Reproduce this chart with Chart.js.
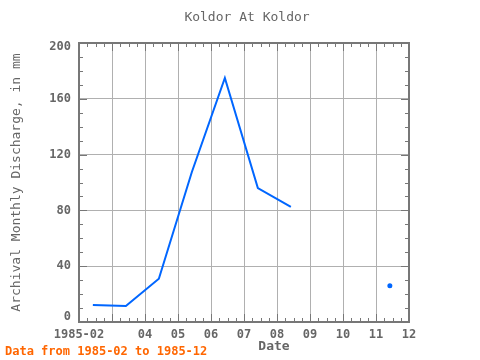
<!DOCTYPE html>
<html>
<head>
<meta charset="utf-8">
<script src="https://cdn.jsdelivr.net/npm/chart.js@4"></script>
<style>
  html, body { margin: 0; padding: 0; background: #fff; }
  #wrap { width: 480px; height: 360px; }
</style>
</head>
<body>
<div id="wrap"><canvas id="chart" width="480" height="360"></canvas></div>
<script>
// Monthly values (1985), points plotted near the middle of each month
const months = ['1985-02', '1985-03', '1985-04', '1985-05', '1985-06', '1985-07', '1985-08', '1985-09', '1985-10', '1985-11'];
const discharge = [12.2, 11.4, 31, 107.5, 175, 96, 82.5, null, null, 26];
const xTickLabels = ['1985-02', '', '04', '05', '06', '07', '08', '09', '10', '11', '12'];
const yTickValues = [0, 40, 80, 120, 160, 200];

const MID_MONTH = 0.42;
const FONT = '"DejaVu Sans Mono", "Liberation Mono", monospace';
const TEXT = '#666666';
const AXIS = '#777777';

const points = months.map((m, i) => ({ x: i + MID_MONTH, y: discharge[i] }));

// draws the frame, inner ticks, y labels and the texts around the plot
const framePlugin = {
    id: 'frame',
    afterDraw(chart) {
        const ctx = chart.ctx;
        const a = chart.chartArea;
        const xs = chart.scales.x;
        const ys = chart.scales.y;
        ctx.save();
        ctx.strokeStyle = AXIS;
        ctx.lineWidth = 1;
        ctx.beginPath();
        for (let v = 0; v <= 10; v += 0.25) {
            const px = Math.round(xs.getPixelForValue(v)) + 0.5;
            const len = Number.isInteger(v) ? 8 : 4;
            ctx.moveTo(px, a.bottom); ctx.lineTo(px, a.bottom - len);
            ctx.moveTo(px, a.top); ctx.lineTo(px, a.top + len);
        }
        for (let v = 0; v <= 200; v += 10) {
            const py = Math.round(ys.getPixelForValue(v)) + 0.5;
            const len = v % 40 === 0 ? 8 : 4;
            ctx.moveTo(a.left, py); ctx.lineTo(a.left + len, py);
            ctx.moveTo(a.right, py); ctx.lineTo(a.right - len, py);
        }
        ctx.stroke();
        ctx.lineWidth = 2;
        ctx.strokeRect(a.left, a.top, a.right - a.left, a.bottom - a.top);

        // y labels, the end ones kept inside the frame
        ctx.fillStyle = TEXT;
        ctx.font = 'bold 12px ' + FONT;
        ctx.textAlign = 'right';
        ctx.textBaseline = 'middle';
        yTickValues.forEach(v => {
            let py = ys.getPixelForValue(v);
            py = Math.min(Math.max(py, a.top + 4), a.bottom - 5);
            ctx.fillText(String(v), a.left - 8, py);
        });

        ctx.textAlign = 'center';
        ctx.font = '13px ' + FONT;
        ctx.fillText('Koldor At Koldor', 247, 18);
        ctx.font = 'bold 13px ' + FONT;
        ctx.fillText('Date', 274, 347);
        ctx.save();
        ctx.translate(17, (a.top + a.bottom) / 2);
        ctx.rotate(-Math.PI / 2);
        ctx.font = '13px ' + FONT;
        ctx.fillText('Archival Monthly Discharge, in mm', 0, 0);
        ctx.restore();

        ctx.fillStyle = '#ff6600';
        ctx.font = 'bold 12px ' + FONT;
        ctx.textAlign = 'left';
        ctx.fillText('Data from 1985-02 to 1985-12', 5, 352);
        ctx.restore();
    }
};

new Chart(document.getElementById('chart'), {
    type: 'line',
    data: {
        datasets: [{
            data: points,
            borderColor: '#0066ff',
            backgroundColor: '#0066ff',
            borderWidth: 2,
            fill: false,
            tension: 0,
            spanGaps: false,
            pointRadius: (c) => {
                const i = c.dataIndex;
                const alone = (discharge[i - 1] == null) && (discharge[i + 1] == null);
                return alone ? 2.5 : 0;
            },
            pointBorderWidth: 0
        }]
    },
    options: {
        responsive: false,
        animation: false,
        events: [],
        layout: { padding: { left: 0, right: 71, top: 43, bottom: 0 } },
        plugins: { legend: { display: false }, tooltip: { enabled: false } },
        scales: {
            x: {
                type: 'linear',
                min: 0,
                max: 10,
                afterFit: (s) => { s.height = 38; },
                afterBuildTicks: (s) => { s.ticks = xTickLabels.map((t, i) => ({ value: i })); },
                grid: { color: '#b0b0b0', lineWidth: 1, drawTicks: false },
                border: { display: false },
                ticks: {
                    autoSkip: false,
                    maxRotation: 0,
                    padding: 6,
                    color: TEXT,
                    font: { family: FONT, size: 12, weight: 'bold' },
                    callback: (v) => xTickLabels[v]
                }
            },
            y: {
                min: 0,
                max: 200,
                afterFit: (s) => { s.width = 79; },
                afterBuildTicks: (s) => { s.ticks = yTickValues.map(v => ({ value: v })); },
                grid: { color: '#b0b0b0', lineWidth: 1, drawTicks: false },
                border: { display: false },
                ticks: { display: false }
            }
        }
    },
    plugins: [framePlugin]
});
</script>
</body>
</html>
